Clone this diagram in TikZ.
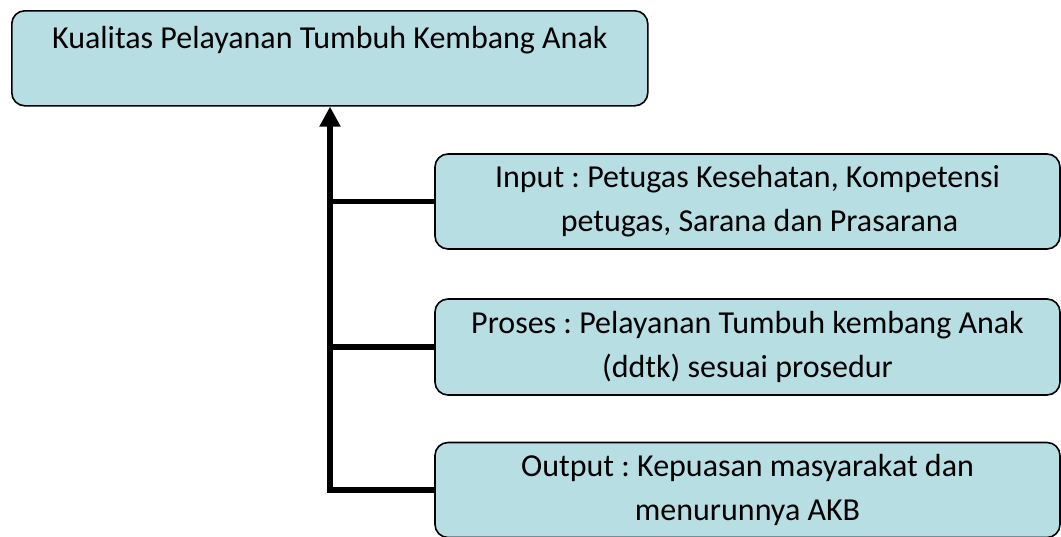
\documentclass[tikz,border=0pt]{standalone}
\usepackage{fontspec}
\setmainfont{Carlito}
\usetikzlibrary{arrows.meta}
\definecolor{boxfill}{RGB}{183,222,227}
\tikzset{
  box/.style={draw=black, line width=1.6pt, fill=boxfill, rounded corners=13pt,
    inner sep=0pt, align=center, font=\fontsize{32}{44}\selectfont\frenchspacing},
  conn/.style={line width=5.5pt, draw=black},
}
\begin{document}
\begin{tikzpicture}[x=1pt,y=-1pt]
\useasboundingbox (0,0) rectangle (1061,536);
\node[box, anchor=north west, minimum width=636pt, minimum height=95pt,
  text height=23pt, text depth=42pt] (top) at (11,10) {Kualitas Pelayanan Tumbuh Kembang Anak};
\node[box, minimum width=625pt, minimum height=95pt] (in) at (747.5,201.5)
  {Input : Petugas Kesehatan, Kompetensi\\\hspace*{24pt}petugas, Sarana dan Prasarana};
\node[box, minimum width=625pt, minimum height=96pt] (pr) at (747.5,347)
  {Proses : Pelayanan Tumbuh kembang Anak\\(ddtk) sesuai prosedur};
\node[box, minimum width=625pt, minimum height=95pt] (out) at (747.5,490)
  {Output : Kepuasan masyarakat dan\\menurunnya AKB};
\coordinate (jb) at (330,490);
\draw[conn, -{Triangle[length=20pt,width=20pt]}] (out.west) -| (top.south -| jb);
\draw[conn] (in.west) -- (in.west -| jb);
\draw[conn] (pr.west) -- (pr.west -| jb);
\end{tikzpicture}
\end{document}
